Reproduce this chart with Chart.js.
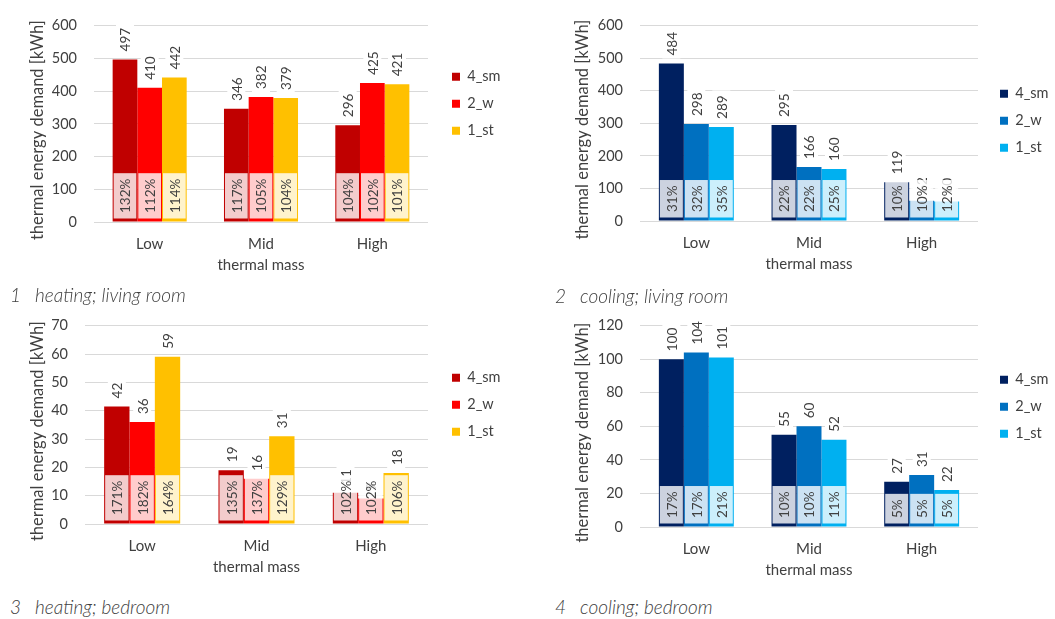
<!DOCTYPE html>
<html>
<head>
<meta charset="utf-8">
<script src="https://cdn.jsdelivr.net/npm/chart.js@4.4.1/dist/chart.umd.min.js"></script>
<style>
  body { margin: 0; background: #fff; width: 1055px; height: 619px; position: relative; overflow: hidden; font-family: Lato, sans-serif; }
  canvas { position: absolute; }
  .cap { position: absolute; font-style: italic; font-weight: 300; font-size: 19px; color: #404040; line-height: 22px; white-space: nowrap; }
  .cap span { display: inline-block; width: 25px; }
</style>
</head>
<body>
<canvas id="c1" width="530" height="277" style="left:0;top:0"></canvas>
<canvas id="c2" width="525" height="276" style="left:530px;top:0"></canvas>
<canvas id="c3" width="530" height="279" style="left:0;top:300px"></canvas>
<canvas id="c4" width="525" height="282" style="left:530px;top:300px"></canvas>
<div class="cap" style="left:10px;top:284px"><span>1</span>heating; living room</div>
<div class="cap" style="left:555px;top:285px"><span>2</span>cooling; living room</div>
<div class="cap" style="left:10px;top:596px"><span>3</span>heating; bedroom</div>
<div class="cap" style="left:555px;top:596px"><span>4</span>cooling; bedroom</div>
<script>
// categories and series
const categories = ['Low', 'Mid', 'High'];
const seriesNames = ['4_sm', '2_w', '1_st'];
const heatColors = ['#C00000', '#FF0000', '#FFC000'];
const coolColors = ['#002060', '#0070C0', '#00B0F0'];

// 1 heating; living room
const heatLivingSm = [497, 346, 296];
const heatLivingW = [410, 382, 425];
const heatLivingSt = [442, 379, 421];
const heatLivingSmPct = [132, 117, 104];
const heatLivingWPct = [112, 105, 102];
const heatLivingStPct = [114, 104, 101];

// 2 cooling; living room
const coolLivingSm = [484, 295, 119];
const coolLivingW = [298, 166, 62];
const coolLivingSt = [289, 160, 60];
const coolLivingSmPct = [31, 22, 10];
const coolLivingWPct = [32, 22, 10];
const coolLivingStPct = [35, 25, 12];

// 3 heating; bedroom
const heatBedSm = [41.5, 19, 11];
const heatBedW = [36, 16, 9];
const heatBedSt = [59, 31, 18];
const heatBedSmPct = [171, 135, 102];
const heatBedWPct = [182, 137, 102];
const heatBedStPct = [164, 129, 106];

// 4 cooling; bedroom
const coolBedSm = [100, 55, 27];
const coolBedW = [104, 60, 31];
const coolBedSt = [101, 52, 22];
const coolBedSmPct = [17, 10, 5];
const coolBedWPct = [17, 10, 5];
const coolBedStPct = [21, 11, 5];

// y tick labels
const livingTicks = [0, 100, 200, 300, 400, 500, 600];
const heatBedTicks = [0, 10, 20, 30, 40, 50, 60, 70];
const coolBedTicks = [0, 20, 40, 60, 80, 100, 120];

const textColor = '#404040';
const fontFamily = 'Lato, sans-serif';

// value labels above the bars and percentage boxes at the bar base
const barLabels = {
  id: 'barLabels',
  afterDatasetsDraw(chart) {
    const ctx = chart.ctx;
    ctx.save();
    ctx.font = '13.5px ' + fontFamily;
    chart.data.datasets.forEach((ds, i) => {
      chart.getDatasetMeta(i).data.forEach((bar, j) => {
        const txt = String(Math.round(ds.data[j]));
        const w = ctx.measureText(txt).width;
        ctx.save();
        ctx.translate(bar.x, bar.y - 8);
        ctx.rotate(-Math.PI / 2);
        ctx.fillStyle = '#fff';
        ctx.fillRect(-3, -9, w + 8, 18);
        ctx.fillStyle = textColor;
        ctx.textAlign = 'left';
        ctx.textBaseline = 'middle';
        ctx.fillText(txt, 0, 1);
        ctx.restore();
      });
    });
    ctx.font = '13.5px ' + fontFamily;
    chart.data.datasets.forEach((ds, i) => {
      chart.getDatasetMeta(i).data.forEach((bar, j) => {
        const txt = ds.pct[j] + '%';
        const w = ctx.measureText(txt).width;
        const h = w + 11;
        const bottom = bar.base - 3;
        ctx.fillStyle = 'rgba(255,255,255,0.8)';
        ctx.fillRect(bar.x - bar.width / 2 + 1, bottom - h, bar.width - 2, h);
        ctx.save();
        ctx.translate(bar.x, bottom - h / 2);
        ctx.rotate(-Math.PI / 2);
        ctx.fillStyle = textColor;
        ctx.textAlign = 'center';
        ctx.textBaseline = 'middle';
        ctx.fillText(txt, 0, 1);
        ctx.restore();
      });
    });
    ctx.restore();
  }
};

// put the legend where the original has it
const legendPos = {
  id: 'legendPos',
  afterLayout(chart, args, opts) {
    const lg = chart.legend;
    const pad = lg.options.labels.padding;
    lg.left = opts.x - pad;
    lg.top = opts.y - pad - 7.5;
    lg.right = lg.left + lg.width;
    lg.bottom = lg.top + lg.height;
  }
};

function makeChart(id, colors, series, pcts, ticks, geo) {
  const canvas = document.getElementById(id);
  new Chart(canvas.getContext('2d'), {
    type: 'bar',
    data: {
      labels: categories,
      datasets: seriesNames.map((name, i) => ({
        label: name,
        data: series[i],
        pct: pcts[i],
        backgroundColor: colors[i],
        borderWidth: 0,
        barPercentage: 1,
        categoryPercentage: 0.665
      }))
    },
    options: {
      responsive: false,
      animation: false,
      events: [],
      layout: { padding: { top: geo.top, right: canvas.width - geo.right, bottom: 0, left: 0 } },
      scales: {
        x: {
          grid: { display: false },
          border: { display: false },
          ticks: { color: textColor, padding: 5, maxRotation: 0, font: { family: fontFamily, size: 15 } },
          title: { display: true, text: 'thermal mass', color: textColor, padding: { top: 0, bottom: 3 }, font: { family: fontFamily, size: 15 } },
          afterFit: s => { s.height = canvas.height - geo.bottom; }
        },
        y: {
          min: 0,
          max: ticks[ticks.length - 1],
          afterBuildTicks: s => { s.ticks = ticks.map(v => ({ value: v })); },
          grid: { color: '#D9D9D9', drawTicks: false },
          border: { display: false },
          ticks: { color: textColor, padding: 17, font: { family: fontFamily, size: 14.5 } },
          title: { display: true, text: 'thermal energy demand [kWh]   ', color: textColor, padding: { top: geo.titlePad, bottom: 0 }, font: { family: fontFamily, size: 16.5 } },
          afterFit: s => { s.width = geo.left; }
        }
      },
      plugins: {
        legend: {
          position: 'chartArea',
          align: 'start',
          labels: { color: textColor, boxWidth: 8, boxHeight: 8, padding: 12.5, font: { family: fontFamily, size: 14.5 } }
        },
        legendPos: { x: geo.legendX, y: geo.legendY },
        tooltip: { enabled: false }
      }
    },
    plugins: [barLabels, legendPos]
  });
}

makeChart('c1', heatColors,
  [heatLivingSm, heatLivingW, heatLivingSt],
  [heatLivingSmPct, heatLivingWPct, heatLivingStPct],
  livingTicks,
  { left: 94, right: 428, top: 16, bottom: 222, titlePad: 28, legendX: 452, legendY: 77 });

makeChart('c2', coolColors,
  [coolLivingSm, coolLivingW, coolLivingSt],
  [coolLivingSmPct, coolLivingWPct, coolLivingStPct],
  livingTicks,
  { left: 110, right: 448, top: 15, bottom: 221, titlePad: 43, legendX: 470, legendY: 94 });

makeChart('c3', heatColors,
  [heatBedSm, heatBedW, heatBedSt],
  [heatBedSmPct, heatBedWPct, heatBedStPct],
  heatBedTicks,
  { left: 85, right: 428, top: 19, bottom: 224, titlePad: 28, legendX: 452, legendY: 78 });

makeChart('c4', coolColors,
  [coolBedSm, coolBedW, coolBedSt],
  [coolBedSmPct, coolBedWPct, coolBedStPct],
  coolBedTicks,
  { left: 110, right: 448, top: 21, bottom: 227, titlePad: 43, legendX: 470, legendY: 80 });
</script>
</body>
</html>
